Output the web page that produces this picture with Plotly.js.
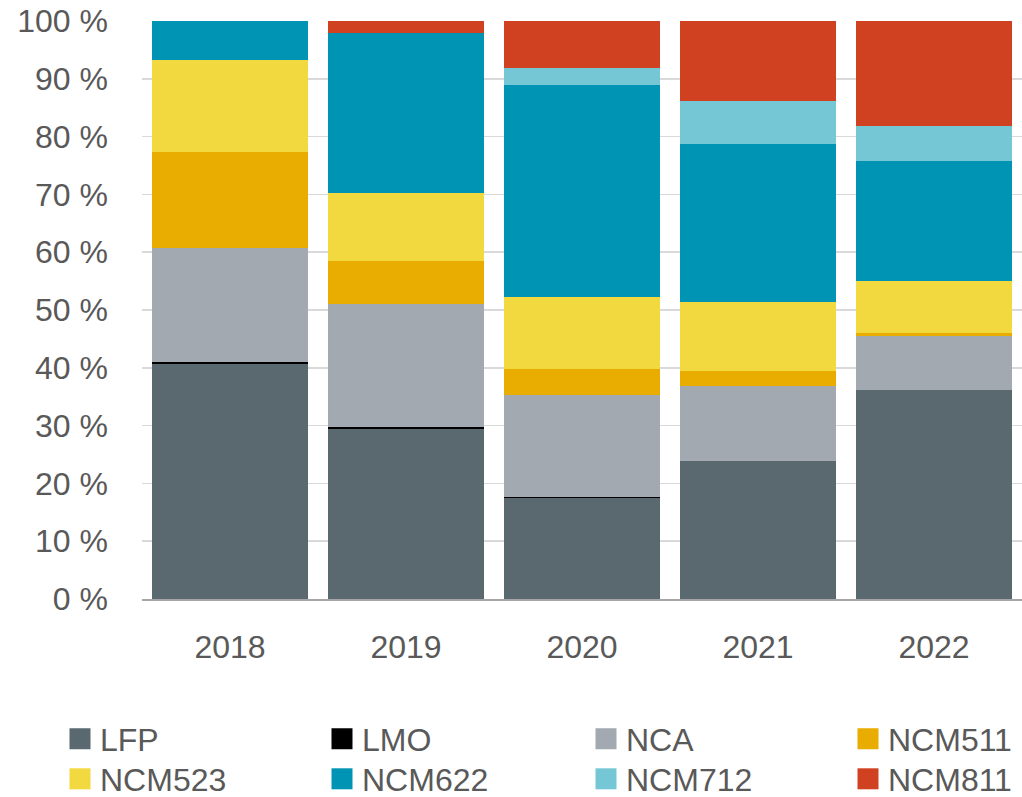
<!DOCTYPE html>
<html>
<head>
<meta charset="utf-8">
<script src="https://cdn.plot.ly/plotly-3.0.1.min.js"></script>
<style>html,body{margin:0;padding:0;background:#fff;overflow:hidden;}#chart{width:1022px;height:797px;}</style>
</head>
<body>
<div id="chart"></div>
<script>
const years = ['2018', '2019', '2020', '2021', '2022'];
const LFP    = [40.7, 29.4, 17.4, 23.8, 36.2];
const LMO    = [0.3, 0.3, 0.2, 0, 0];
const NCA    = [19.7, 21.3, 17.65, 13.0, 9.3];
const NCM511 = [16.6, 7.4, 4.5, 2.65, 0.55];
const NCM523 = [15.9, 11.9, 12.45, 11.95, 9.05];
const NCM622 = [6.8, 27.7, 36.65, 27.3, 20.7];
const NCM712 = [0, 0, 3.0, 7.5, 6.1];
const NCM811 = [0, 2.0, 8.14, 13.8, 18.1];
const yTicks = [0, 10, 20, 30, 40, 50, 60, 70, 80, 90, 100];
const yTickText = ['0 %', '10 %', '20 %', '30 %', '40 %', '50 %', '60 %', '70 %', '80 %', '90 %', '100 %'];

const seriesNames = ['LFP', 'LMO', 'NCA', 'NCM511', 'NCM523', 'NCM622', 'NCM712', 'NCM811'];
const seriesValues = [LFP, LMO, NCA, NCM511, NCM523, NCM622, NCM712, NCM811];
const seriesColors = ['#5a6870', '#000000', '#a2a9b0', '#e8ad00', '#f3d940', '#0094b4', '#76c7d5', '#d04122'];

// legend grid: 4 columns x 2 rows (one small legend per entry)
const legendColX = [60, 322, 586, 848];
const legendRowY = [739, 779];

const font = {family: '"Liberation Sans", Arial, sans-serif', size: 32, color: '#595959'};

const traces = seriesNames.map((name, i) => ({
  type: 'bar', name: name, x: years, y: seriesValues[i],
  marker: {color: seriesColors[i], line: {width: 0}},
  legend: i === 0 ? 'legend' : 'legend' + (i + 1),
  hoverinfo: 'x+y+name'
}));

const layout = {
  width: 1022, height: 797,
  barmode: 'stack', bargap: 0.114,
  margin: {l: 142, r: 0, t: 21, b: 198},
  paper_bgcolor: '#ffffff', plot_bgcolor: '#ffffff',
  font: font,
  showlegend: true,
  xaxis: {
    type: 'category', showgrid: false, zeroline: false,
    showline: true, linecolor: '#a6a6a6', linewidth: 2,
    ticks: '', tickfont: font, ticklabelstandoff: 19
  },
  yaxis: {
    range: [0, 100], tickvals: yTicks, ticktext: yTickText,
    showgrid: true, gridcolor: '#d9d9d9', gridwidth: 1.5,
    zeroline: false, showline: false, ticks: '',
    tickfont: font, ticklabelstandoff: 33, fixedrange: true
  }
};

seriesNames.forEach((name, i) => {
  const key = i === 0 ? 'legend' : 'legend' + (i + 1);
  layout[key] = {
    orientation: 'h',
    xref: 'container', yref: 'container',
    x: legendColX[i % 4] / 1022, xanchor: 'left',
    y: 1 - legendRowY[Math.floor(i / 4)] / 797, yanchor: 'middle',
    font: font, itemclick: false, bgcolor: 'rgba(0,0,0,0)', borderwidth: 0
  };
});

Plotly.newPlot('chart', traces, layout, {displayModeBar: false, staticPlot: true}).then(function () {
  document.querySelectorAll('.legendpoints path').forEach(function (p) {
    p.setAttribute('d', 'M10.5,10.5H-10.5V-10.5H10.5Z');
  });
});
</script>
</body>
</html>
